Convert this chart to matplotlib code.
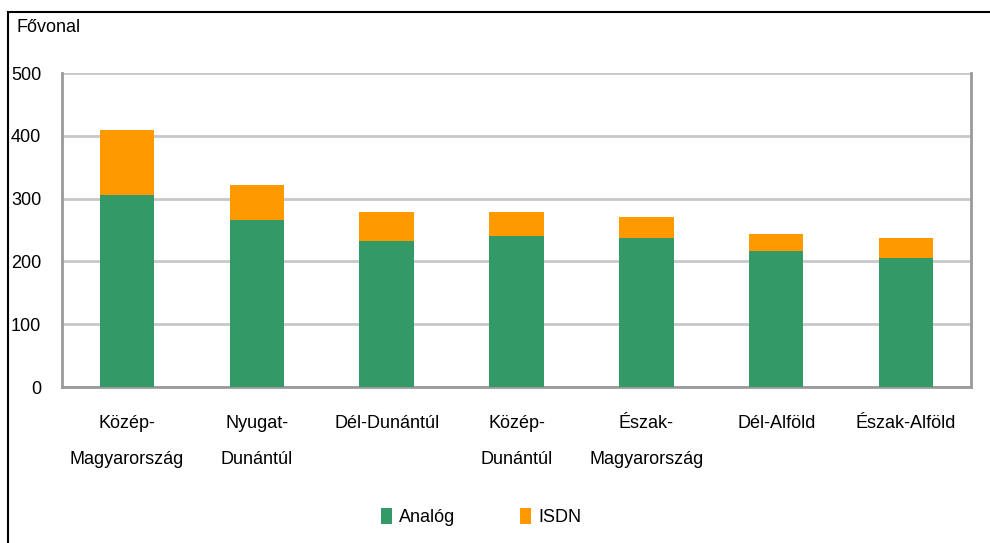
import matplotlib.pyplot as plt
from matplotlib.patches import Rectangle

regiok = ['Közép-\nMagyarország', 'Nyugat-\nDunántúl', 'Dél-Dunántúl',
          'Közép-\nDunántúl', 'Észak-\nMagyarország', 'Dél-Alföld', 'Észak-Alföld']
analog = [306, 266, 233, 240, 237, 217, 205]
isdn = [104, 55, 46, 39, 34, 27, 33]
y_ticks = [0, 100, 200, 300, 400, 500]

plt.rcParams['font.family'] = ['Liberation Sans', 'DejaVu Sans']

fig = plt.figure(figsize=(9.9, 5.43), dpi=100)
ax = fig.add_axes([62 / 990, 1 - 387 / 543, (971 - 62) / 990, (387 - 73) / 543])

x = range(len(regiok))
ax.bar(x, analog, width=0.42, color='#339966', label='Analóg', zorder=3)
ax.bar(x, isdn, width=0.42, bottom=analog, color='#FF9900', label='ISDN', zorder=3)

ax.set_xlim(-0.5, len(regiok) - 0.5)
ax.set_ylim(0, 500)
ax.set_yticks(y_ticks)
ax.set_xticks(list(x))
ax.set_xticklabels(regiok, linespacing=2.5, va='top')
ax.tick_params(axis='both', length=0, labelsize=13)
ax.tick_params(axis='y', pad=15)
ax.tick_params(axis='x', pad=20)
ax.grid(axis='y', color='#c8c8c8', linewidth=2, zorder=0)

for s in ['left', 'bottom', 'right']:
    ax.spines[s].set_color('#9a9a9a')
    ax.spines[s].set_linewidth(2)
ax.spines['top'].set_visible(False)

fig.text(17 / 990, 1 - 27 / 543, 'Fővonal', fontsize=13, va='center', ha='left')

fig.legend(loc='center', bbox_to_anchor=(481 / 990, 1 - 517 / 543), ncol=2,
           frameon=False, fontsize=13, handlelength=0.6, handleheight=1.0,
           columnspacing=3.6, handletextpad=0.4)

# Keret
fig.patches.append(Rectangle((8 / 990, -0.1), 1.1, 1.1 - 12 / 543, transform=fig.transFigure,
                             fill=False, edgecolor='black', linewidth=1.5, zorder=10))

fig.savefig('out.png', dpi=100)
